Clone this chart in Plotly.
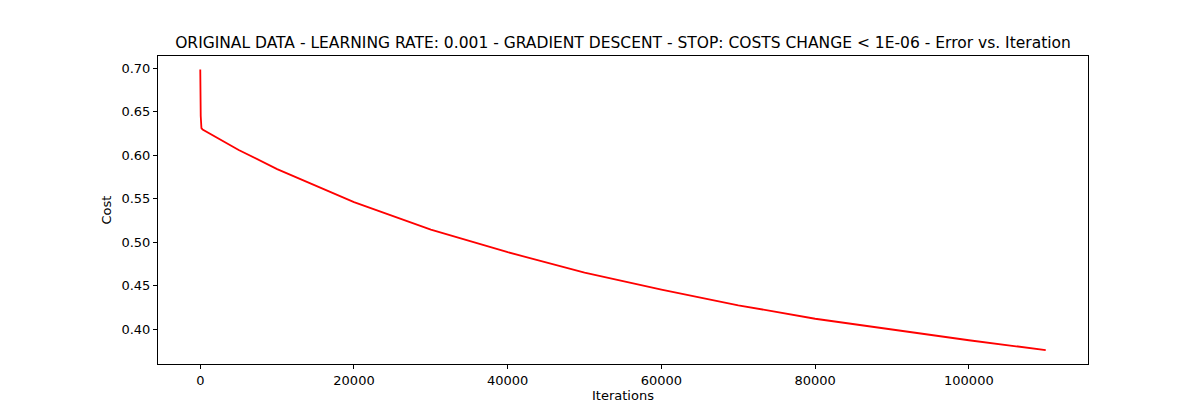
import plotly.graph_objects as go

iterations = [0, 20, 60, 150, 300, 5000, 10000, 20000, 30000, 40000, 50000,
              60000, 70000, 80000, 90000, 100000, 110000]
cost = [0.6986, 0.66, 0.645, 0.631, 0.6296, 0.606, 0.584, 0.546, 0.5145, 0.4885, 0.465,
        0.4455, 0.4275, 0.412, 0.3995, 0.3873, 0.376]

fig = go.Figure(go.Scatter(x=iterations, y=cost, mode="lines", line=dict(color="red", width=1.8)))
axis = dict(showgrid=False, zeroline=False, showline=True, linecolor="black", mirror=True,
            ticks="outside", ticklen=4, tickcolor="black", tickfont=dict(size=13, color="black"),
            automargin=False)
fig.update_layout(
    width=1200, height=400, plot_bgcolor="white", paper_bgcolor="white",
    margin=dict(l=150, r=120, t=48, b=44, autoexpand=False),
    font=dict(family="DejaVu Sans", color="black"),
    title=dict(text="ORIGINAL DATA - LEARNING RATE: 0.001 - GRADIENT DESCENT - STOP: COSTS CHANGE < 1E-06 - Error vs. Iteration",
               x=0.5125, xanchor="center", y=0.9125, yanchor="middle", font=dict(size=15.5), automargin=False),
    xaxis=dict(axis, range=[-5500, 115500], tickvals=[0, 20000, 40000, 60000, 80000, 100000],
               ticktext=["0", "20000", "40000", "60000", "80000", "100000"],
               title=dict(text="Iterations", font=dict(size=13), standoff=4)),
    yaxis=dict(axis, range=[0.360, 0.714], tickvals=[0.40, 0.45, 0.50, 0.55, 0.60, 0.65, 0.70],
               tickformat=".2f", title=dict(text="Cost", font=dict(size=13), standoff=6)),
    showlegend=False,
)
fig.write_html("out.html")
